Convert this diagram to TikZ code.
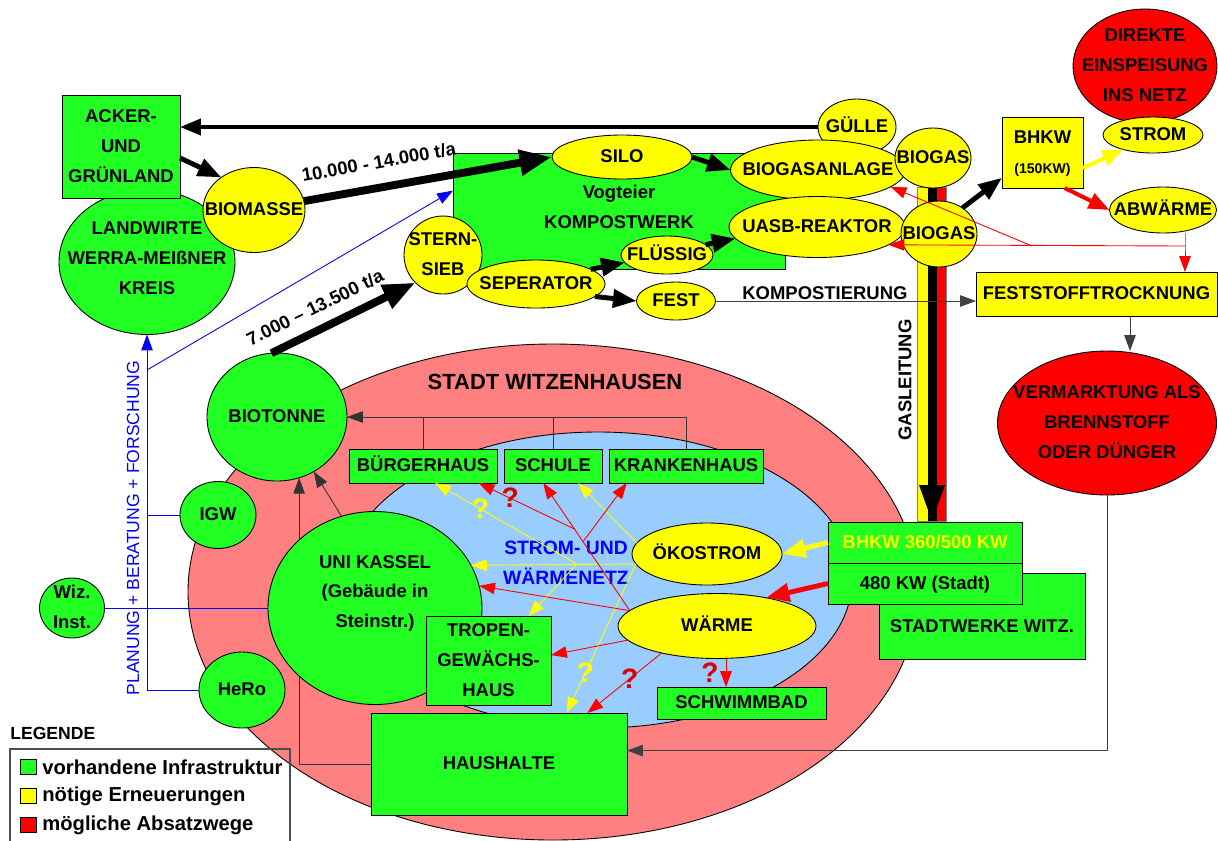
\documentclass[tikz,border=0pt]{standalone}
\usepackage{fontspec}
\setmainfont{Liberation Sans}
\usetikzlibrary{shapes.geometric,arrows.meta,calc}

\definecolor{grn}{RGB}{34,255,34}
\definecolor{ylw}{RGB}{255,255,0}
\definecolor{rd}{RGB}{255,0,0}
\definecolor{pnk}{RGB}{255,128,128}
\definecolor{lblue}{RGB}{153,204,255}

\newcommand\boxfont{\fontsize{10.5}{17}\selectfont\bfseries}
\newcommand\bigfont{\fontsize{12.5}{15}\selectfont\bfseries}
\newcommand\netzfont{\fontsize{11}{17}\selectfont\bfseries}
\newcommand\keyfont{\fontsize{11.5}{13}\selectfont\bfseries}
\newcommand\qfont{\fontsize{16}{16}\selectfont\bfseries}
\newcommand\lines[2][0pt]{\smash{\makebox[0pt]{\raisebox{\dimexpr#1-0.25em\relax}{\begin{tabular}{@{}c@{}}#2\end{tabular}}}}}

\tikzset{
  sz/.style 2 args={minimum width=#1*0.02cm, minimum height=#2*0.02cm},
  base/.style={draw, line width=0.5pt, inner sep=0pt, outer sep=0pt, font=\boxfont},
  gbox/.style={base, rectangle, fill=grn},
  ybox/.style={base, rectangle, fill=ylw},
  gell/.style={base, ellipse, fill=grn},
  yell/.style={base, ellipse, fill=ylw},
  rell/.style={base, ellipse, fill=rd},
  flow/.style={line width=#1, -{Triangle[length=5pt 3, width=4pt 2.2]}},
  wire/.style={line width=0.5pt, -{Triangle[length=9pt, width=6.5pt]}},
  qmark/.style={font=\qfont, inner sep=0pt},
}

\begin{document}
\begin{tikzpicture}[x=0.02cm, y=-0.02cm]
  \useasboundingbox (0,0) rectangle (1218,840);

% --- STADT WITZENHAUSEN ---
  \node[base, ellipse, fill=pnk, sz={730}{496}] (stadt) at (553,592) {};
  \node[base, ellipse, fill=lblue, sz={508}{296}] (netz) at (598,580) {};
  \node[font=\bigfont] (stadtlbl) at (555,382) {STADT WITZENHAUSEN};
  \node[font=\netzfont, text=blue, align=center] (netzlbl) at (566,563) {STROM- UND\\WÄRMENETZ};

% --- LANDWIRTSCHAFT ---
  \node[gell, sz={176}{145}] (landw) at (147,262) {\lines[2pt]{LANDWIRTE\\WERRA-MEIßNER\\KREIS}};
  \node[gbox, sz={118}{103}] (acker) at (121,146.5) {\lines{ACKER-\\UND\\GRÜNLAND}};
  \node[yell, sz={102}{85}] (biomasse) at (254,210) {\lines{BIOMASSE}};

% --- KOMPOSTWERK ---
  \node[gbox, sz={332}{116}] (kompost) at (619,211) {\lines[2pt]{Vogteier\\KOMPOSTWERK}};
  \node[yell, sz={140}{44}] (silo) at (622,157) {\lines{SILO}};
  \node[yell, sz={78}{56}] (guelle) at (857,127) {\lines{GÜLLE}};
  \node[yell, sz={175}{60}] (biogasanl) at (818,170) {\lines{BIOGASANLAGE}};
  \node[yell, sz={176}{61}] (uasb) at (817,227) {\lines{UASB-REAKTOR}};
  \node[yell, sz={78}{78}] (sieb) at (443,255) {\lines{STERN-\\SIEB}};
  \node[yell, sz={138}{48}] (seperator) at (536,284) {\lines{SEPERATOR}};
  \node[yell, sz={92}{38}] (fluessig) at (667,255) {\lines{FLÜSSIG}};
  \node[yell, sz={79}{38}] (fest) at (676,301) {\lines{FEST}};

  % gas pipe
  \fill[ylw] (917,187) rectangle (928,521);
  \fill[black] (928,187) rectangle (937,521);
  \fill[rd] (937,187) rectangle (946,521);
  \draw[gray, line width=0.4pt] (917,187) rectangle (946,521);
  \fill[black] (919,485) -- (945,485) -- (932,521) -- cycle;
  \node[rotate=90, font=\boxfont] (gaslbl) at (905,380) {GASLEITUNG};
  \node[yell, sz={76}{60}] (biogas1) at (933,158) {\lines{BIOGAS}};
  \node[yell, sz={76}{66}] (biogas2) at (939,234) {\lines{BIOGAS}};

% --- BHKW / ABSATZ ---
  \node[rell, sz={144}{114}] (direkt) at (1145,66) {\lines{DIREKTE\\EINSPEISUNG\\INS NETZ}};
  \node[yell, sz={100}{36}] (strom) at (1153,135) {\lines{STROM}};
  \node[ybox, sz={81}{71}] (bhkw) at (1042.5,152.5) {\lines{BHKW\\{\fontsize{8}{10}\selectfont (150KW)}}};
  \node[yell, sz={107}{46}] (abwaerme) at (1163,210) {\lines{ABWÄRME}};
  \node[ybox, sz={241}{44}] (feststoff) at (1096.5,294) {\lines{FESTSTOFFTROCKNUNG}};
  \node[rell, sz={219}{144}] (verm) at (1107,423) {\lines{VERMARKTUNG ALS\\BRENNSTOFF\\ODER DÜNGER}};

% --- IN DER STADT ---
  \node[gell, sz={140}{128}] (biotonne) at (277,417) {\lines{BIOTONNE}};
  \node[gell, sz={76}{67}] (igw) at (218,515) {\lines{IGW}};
  \node[gell, sz={65}{60}] (wiz) at (72,608) {\lines{Wiz.\\Inst.}};
  \node[gell, sz={86}{76}] (hero) at (242,690) {\lines{HeRo}};
  \node[gbox, sz={256}{102}] (haushalte) at (499,764) {\lines{HAUSHALTE}};
  \node[gbox, sz={148}{34}] (buerger) at (423,466) {\lines{BÜRGERHAUS}};
  \node[gbox, sz={98}{34}] (schule) at (553,466) {\lines{SCHULE}};
  \node[gbox, sz={154}{34}] (kranken) at (686,466) {\lines{KRANKENHAUS}};
  \node[gbox, sz={169}{32}] (schwimm) at (741.5,703) {\lines{SCHWIMMBAD}};
  \node[yell, sz={150}{62}] (oeko) at (707,554) {\lines{ÖKOSTROM}};
  \node[yell, sz={198}{65}] (waerme) at (717,626) {\lines{WÄRME}};
  \node[gbox, sz={206}{86}] (stadtwerke) at (982,616) {\lines[-6pt]{STADTWERKE WITZ.}};
  \node[gbox, sz={194}{41}] (bhkw360) at (925,542.5) {\lines{\color{ylw}BHKW 360/500 KW}};
  \node[gbox, sz={194}{41}] (bhkw480) at (925,583.5) {\lines{480 KW (Stadt)}};

  % haushalte -> biotonne, behind the uni
  \draw[wire, black!80] (haushalte.west) -| (biotonne.-70);
  \node[gell, sz={214}{193}] (uni) at (375,608) {\lines[9pt]{UNI KASSEL\\(Gebäude in\\Steinstr.)}};
  \node[gbox, sz={125}{89}] (tropen) at (488.5,660.5) {\lines{TROPEN-\\GEWÄCHS-\\HAUS}};

% --- LEGENDE ---
  \node[font=\fontsize{10}{12}\selectfont\bfseries, anchor=west, inner sep=0pt] (legtitle) at (10,733) {LEGENDE};
  \draw[gray!60!black, line width=0.6pt] (10,749) rectangle (290,850);
  \foreach \col/\txt [count=\i] in {grn/vorhandene Infrastruktur, ylw/nötige Erneuerungen, rd/mögliche Absatzwege} {
    \node[base, fill=\col, sz={16}{15}] (key\i) at (28,738+29*\i) {};
    \node[font=\keyfont, anchor=west, inner sep=0pt] (keytxt\i) at (42,738+29*\i) {\txt};
  }

% --- connectors ---
  % biomass and compost
  \draw[flow=2.3pt] (guelle.west) -- (guelle.west -| acker.east);
  \draw[flow=2.8pt] (acker.-11) -- (biomasse.135);
  \draw[flow=4.5pt] (biomasse) -- (silo.west)
    node[pos=0.32, above=5pt, sloped, font=\boxfont] (menge1) {10.000 - 14.000 t/a};
  \draw[flow=4.5pt] (biotonne.95) -- (sieb.-135)
    node[pos=0.37, above=3pt, sloped, font=\boxfont] (menge2) {7.000 – 13.500 t/a};
  \draw[flow=2.8pt] (silo.east) -- (biogasanl.west);
  \draw[flow=2.8pt] (seperator.15) -- (fluessig.190);
  \draw[flow=2.8pt] (seperator.-12) -- (fest.west);
  \draw[flow=2.8pt] (fluessig.15) -- (uasb.188);

  % biogas
  \draw[flow=2.8pt] (biogas2.48) -- (bhkw.-148);
  \draw[flow=2.3pt, ylw] (bhkw.-21) -- (strom.-154);
  \draw[flow=2.3pt, rd] (bhkw.-58) -- (abwaerme.west);
  \coordinate (abw) at (1185,246);
  \coordinate (split) at (1032,246);
  \draw[wire, rd] (abwaerme.south -| abw) -- (abw) -- (abw |- feststoff.north);
  \draw[wire, rd] (abw) -- (uasb.-14);
  \draw[wire, rd] (split) -- (biogasanl.-13.5);

  % solids
  \draw[wire, black!75] (fest.east) -- (fest.east -| feststoff.west)
    node[pos=0.42, above=0.5pt, inner sep=0pt, font=\boxfont, text=black] (kompostlbl) {KOMPOSTIERUNG};
  \coordinate (fdrop) at ([xshift=0.67cm]feststoff.south);
  \draw[wire, black!75] (fdrop) -- (fdrop |- verm.north);
  \draw[wire, black!75] (verm.south) |- (haushalte.6);

  % biotonne collection
  \draw[black!80, line width=0.5pt] (buerger.north) |- (biotonne.east);
  \draw[black!80, line width=0.5pt] (schule.north) |- (biotonne.east);
  \draw[wire, black!80] (kranken.north) |- (biotonne.east);
  \draw[wire, black!80] (uni.110) -- (biotonne.-56);

  % planning
  \coordinate (fork) at (landw.south |- 0,370);
  \draw[wire, blue] (hero.west) -| (landw.south);
  \draw[blue, line width=0.5pt] (igw.west) -- (igw.west -| landw.south);
  \draw[blue, line width=0.5pt] (wiz.east) -- (uni.west);
  \draw[wire, blue] (fork) -- (kompost.173);
  \node[rotate=90, text=blue, font=\fontsize{10}{12}\selectfont] (planlbl) at (133,528) {PLANUNG + BERATUNG + FORSCHUNG};

  % supply from BHKW
  \draw[flow=2.8pt, ylw] (bhkw360.west) -- (oeko.east);
  \draw[flow=2.8pt, rd] (bhkw480.west) -- (waerme.30);

  % strom (yellow)
  \coordinate (yhub) at (577,564);
  \draw[wire, ylw] (oeko.188) -- (uni.24);
  \draw[wire, ylw] (yhub) -- (buerger.-55) node[qmark, pos=0.68, text=ylw] (q1) {?};
  \draw[wire, ylw] (yhub) -- (tropen.48);
  \draw[wire, ylw] (oeko.171) -- (schule.-34);
  \draw[wire, ylw] (oeko.188) -- (haushalte.37) node[qmark, pos=0.73, text=ylw] (q2) {?};

  % waerme (red)
  \coordinate (rhub) at (waerme.170);
  \coordinate (rb1) at ($(rhub)!0.64!(schule.-120)$);
  \coordinate (rb2) at ($(rhub)!0.54!(schule.-120)$);
  \draw[wire, rd] (rhub) -- (uni.12);
  \draw[wire, rd] (rhub) -- (schule.-120);
  \draw[wire, rd] (rb1) -- (buerger.-17) node[qmark, pos=0.67, text=rd!85!black] (q3) {?};
  \draw[wire, rd] (rb2) -- (kranken.-164);
  \draw[wire, rd] (waerme.-171) -- (tropen.5);
  \draw[wire, rd] (waerme.-154) -- (haushalte.30) node[qmark, pos=0.43, text=rd!85!black] (q4) {?};
  \coordinate (wdrop) at ([xshift=0.18cm]waerme.south);
  \draw[wire, rd] (wdrop) -- (wdrop |- schwimm.north) node[qmark, midway, left=4pt, text=rd!85!black] (q5) {?};
\end{tikzpicture}
\end{document}
